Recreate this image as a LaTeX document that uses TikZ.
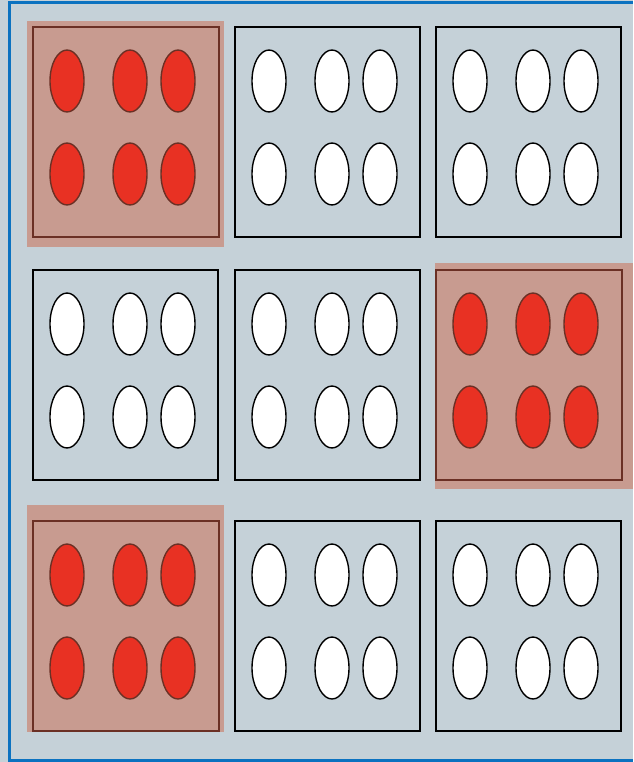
\documentclass[tikz,border=0pt]{standalone}
\definecolor{bg}{HTML}{C5D1D8}
\definecolor{frameblue}{HTML}{0B72C0}
\definecolor{hlfill}{HTML}{C89B90}
\definecolor{hlstroke}{HTML}{6B3025}
\definecolor{redfill}{HTML}{E83123}
\tikzset{
  cellbox/.style={draw=black, line width=1.6pt},
  hlbox/.style={draw=hlstroke, line width=1.6pt},
  whiteoval/.style={ellipse, draw=black, fill=white, line width=1.4pt, minimum width=34pt, minimum height=62pt, inner sep=0pt},
  redoval/.style={ellipse, draw=hlstroke, fill=redfill, line width=1.4pt, minimum width=34pt, minimum height=62pt, inner sep=0pt},
}
\usetikzlibrary{shapes.geometric}
\begin{document}
\begin{tikzpicture}[x=1pt,y=-1pt]
\useasboundingbox (0,0) rectangle (633,762);
\fill[bg] (0,0) rectangle (633,762);
% highlight backgrounds
\fill[hlfill] (27,21) rectangle (224,247);
\fill[hlfill] (435,263) rectangle (633,489);
\fill[hlfill] (27,505) rectangle (224,732);
% cells
\foreach \cx/\cy/\hl [count=\i] in {33/27/1, 235/27/0, 436/27/0, 33/270/0, 235/270/0, 436/270/1, 33/521/1, 235/521/0, 436/521/0}{
  \ifnum\hl=1
    \draw[hlbox] (\cx,\cy) rectangle ++(186,210);
    \foreach \ox [count=\j] in {34,97,145}{
      \node[redoval] (r\i a\j) at (\cx+\ox,\cy+54) {};
      \node[redoval] (r\i b\j) at (\cx+\ox,\cy+147) {};
    }
  \else
    \draw[cellbox] (\cx,\cy) rectangle ++(185,210);
    \foreach \ox [count=\j] in {34,97,145}{
      \node[whiteoval] (w\i a\j) at (\cx+\ox,\cy+54) {};
      \node[whiteoval] (w\i b\j) at (\cx+\ox,\cy+147) {};
    }
  \fi
}
% frame
\fill[frameblue] (8,1) rectangle (633,4);
\fill[frameblue] (8,1) rectangle (11,762);
\fill[frameblue] (8,759) rectangle (633,762);
\end{tikzpicture}
\end{document}
